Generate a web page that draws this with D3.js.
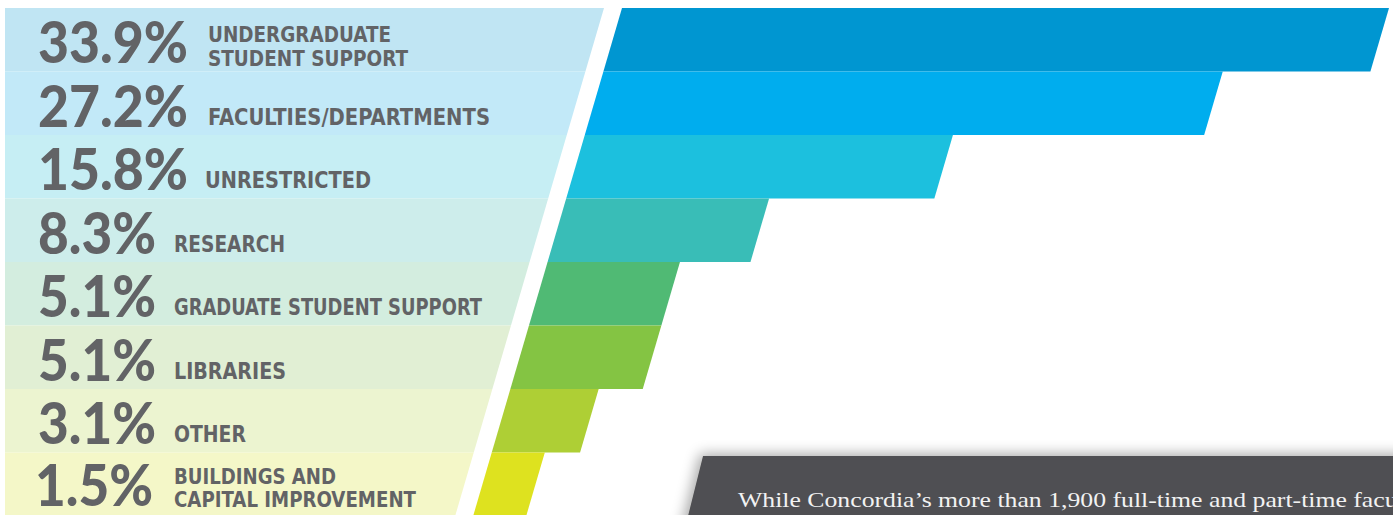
<!DOCTYPE html>
<html><head><meta charset="utf-8">
<script src="https://cdn.jsdelivr.net/npm/d3@7"></script>
<style>html,body{margin:0;padding:0;background:#fff;overflow:hidden}</style>
</head><body>
<script>
const categories = ["UNDERGRADUATE|STUDENT SUPPORT","FACULTIES/DEPARTMENTS","UNRESTRICTED","RESEARCH","GRADUATE STUDENT SUPPORT","LIBRARIES","OTHER","BUILDINGS AND|CAPITAL IMPROVEMENT"];
const values = [33.9, 27.2, 15.8, 8.3, 5.1, 5.1, 3.1, 1.5];
const valueLabels = ["33.9%","27.2%","15.8%","8.3%","5.1%","5.1%","3.1%","1.5%"];
const barColors = ["#0096D1","#00ADEE","#1CC0DE","#39BDB7","#50BA74","#84C443","#AECF35","#DEE21F"];
const panelColors = ["#C0E5F3","#C2E9F8","#C6EEF4","#CDEDEB","#D3EDDF","#E1EFD4","#ECF4D0","#F4F7C8"];
const noteText = "While Concordia\u2019s more than 1,900 full-time and part-time faculty";

const W = 1393, H = 515;
const svg = d3.select("body").append("svg").attr("width", W).attr("height", H);
const defs = svg.append("defs");
const f = defs.append("filter").attr("id","sh").attr("x","-10%").attr("y","-60%").attr("width","130%").attr("height","220%");
f.append("feGaussianBlur").attr("in","SourceAlpha").attr("stdDeviation",7).attr("result","b");
f.append("feOffset").attr("in","b").attr("dx",-3).attr("dy",-2).attr("result","o");
f.append("feComponentTransfer").attr("in","o").attr("result","o2").append("feFuncA").attr("type","linear").attr("slope",0.35);
const m = f.append("feMerge"); m.append("feMergeNode").attr("in","o2"); m.append("feMergeNode").attr("in","SourceGraphic");

const y = d3.scaleBand().domain(categories).range([8, 516]).padding(0);
const slope = 0.293;
const panelRight = yy => 604 - slope * (yy - 8);
const barLeft = yy => 622 - slope * (yy - 8);
const x = d3.scaleLinear().domain([0, 33.9]).range([20, 767]);

const rows = categories.map((c, i) => ({c, v: values[i], lab: valueLabels[i], i}));

const g = svg.append("g");
g.selectAll("path.panel").data(rows).join("path").attr("class","panel")
  .attr("fill", d => panelColors[d.i])
  .attr("d", d => {
    const t = y(d.c), b = y(d.c) + y.bandwidth();
    return `M5,${t}L${panelRight(t)},${t}L${panelRight(b)},${b}L5,${b}Z`;
  });
g.selectAll("path.bar").data(rows).join("path").attr("class","bar")
  .attr("fill", d => barColors[d.i])
  .attr("d", d => {
    const t = y(d.c), b = y(d.c) + y.bandwidth();
    const w = x(d.v);
    return `M${barLeft(t)},${t}L${barLeft(t)+w},${t}L${barLeft(b)+w},${b}L${barLeft(b)},${b}Z`;
  });

g.selectAll("text.val").data(rows).join("text").attr("class","val")
  .attr("x", d => d.i === 7 ? 35 : 38)
  .attr("y", d => y(d.c) + (d.i === 7 ? 53 : 55))
  .attr("font-family","Lato, 'Open Sans', sans-serif").attr("font-weight","900")
  .attr("font-size", 58).attr("fill","#626366")
  .attr("textLength", d => d.lab.length === 5 ? 150 : 118)
  .attr("lengthAdjust","spacingAndGlyphs")
  .text(d => d.lab);

const labX = d => d.lab.length === 5 ? (d.i === 2 ? 205 : 208) : 174;
const labWidths = {"UNDERGRADUATE":183,"STUDENT SUPPORT":200,"FACULTIES/DEPARTMENTS":282,"UNRESTRICTED":166,"RESEARCH":111,"GRADUATE STUDENT SUPPORT":308,"LIBRARIES":112,"OTHER":72,"BUILDINGS AND":162,"CAPITAL IMPROVEMENT":242};
rows.forEach(d => {
  const parts = d.c.split("|");
  const t = y(d.c);
  const baselines = parts.length === 2 ? (d.i === 0 ? [t + 34, t + 58] : [t + 31, t + 54]) : [t + 53];
  parts.forEach((p, k) => {
    g.append("text").attr("x", labX(d)).attr("y", baselines[k])
      .attr("font-family","'Liberation Sans Narrow','DejaVu Sans Condensed',sans-serif")
      .attr("font-weight","bold").attr("font-size", parts.length === 2 ? 21.5 : 23).attr("fill","#626366")
      .attr("textLength", labWidths[p]).attr("lengthAdjust","spacingAndGlyphs")
      .text(p);
  });
});

const bt = 456, bb = 530;
const boxLeft = yy => 703 - 0.25 * (yy - bt);
svg.append("path").attr("fill","#505052").attr("filter","url(#sh)")
  .attr("d", `M${boxLeft(bt)},${bt}L${W+20},${bt}L${W+20},${bb}L${boxLeft(bb)},${bb}Z`);
svg.append("text").attr("transform","translate(738,507) scale(1.17,1)")
  .attr("font-family","'Liberation Serif','DejaVu Serif',serif").attr("font-size", 22)
  .attr("fill","#F2F2F2").text(noteText);
</script>
</body></html>
